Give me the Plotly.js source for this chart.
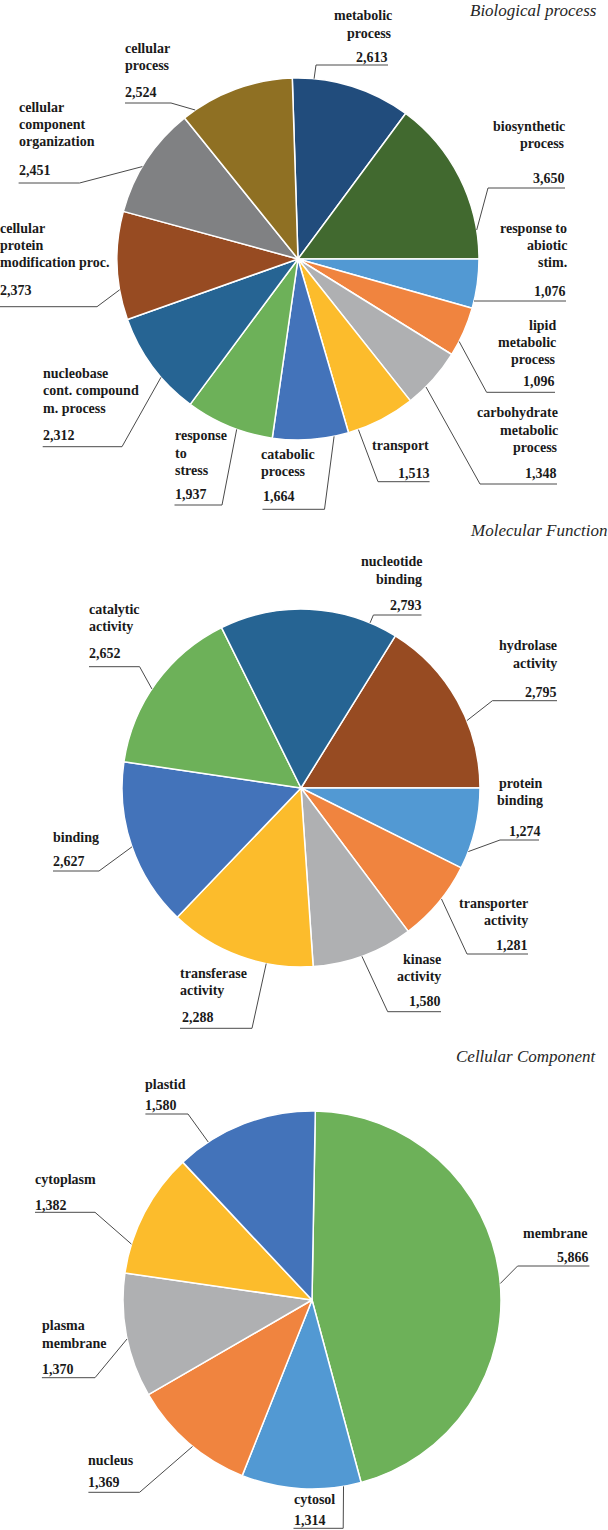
<!DOCTYPE html>
<html><head><meta charset="utf-8">
<script src="https://cdn.plot.ly/plotly-3.0.1.min.js"></script>
<style>html,body{margin:0;padding:0;background:#fff}#chart{width:608px;height:1530px}</style>
</head><body><div id="chart"></div>
<script>
// ---------------- data ----------------
const panelTitles = ['Biological process', 'Molecular Function', 'Cellular Component'];

const bpCategories = ['metabolic\nprocess', 'biosynthetic\nprocess', 'response to\nabiotic\nstim.', 'lipid\nmetabolic\nprocess',
  'carbohydrate\nmetabolic\nprocess', 'transport', 'catabolic\nprocess', 'response\nto\nstress',
  'nucleobase\ncont. compound\nm. process', 'cellular\nprotein\nmodification proc.', 'cellular\ncomponent\norganization', 'cellular\nprocess'];
const bpValues = [2613, 3650, 1076, 1096, 1348, 1513, 1664, 1937, 2312, 2373, 2451, 2524];

const mfCategories = ['hydrolase\nactivity', 'protein\nbinding', 'transporter\nactivity', 'kinase\nactivity',
  'transferase\nactivity', 'binding', 'catalytic\nactivity', 'nucleotide\nbinding'];
const mfValues = [2795, 1274, 1281, 1580, 2288, 2627, 2652, 2793];

const ccCategories = ['membrane', 'cytosol', 'nucleus', 'plasma\nmembrane', 'cytoplasm', 'plastid'];
const ccValues = [5866, 1314, 1369, 1370, 1382, 1580];

// ---------------- style ----------------
const C = {
  navy: '#214C7C', dgreen: '#41692F', lblue: '#5299D3', orange: '#F0843F', lgray: '#AFB0B2', yellow: '#FCBC2C',
  blue: '#4373BA', green: '#6DB159', steel: '#266493', brown: '#974B22', dgray: '#808183', olive: '#8F7023'
};
const bpColors = [C.navy, C.dgreen, C.lblue, C.orange, C.lgray, C.yellow, C.blue, C.green, C.steel, C.brown, C.dgray, C.olive];
const mfColors = [C.brown, C.lblue, C.orange, C.lgray, C.yellow, C.blue, C.green, C.steel];
const ccColors = [C.green, C.lblue, C.orange, C.lgray, C.yellow, C.blue];

const W = 608, H = 1530;
const px = x => x / W, py = y => 1 - y / H;
const FS = 14, LS = 17.3;
const labelFont = {family: 'Liberation Serif, Times New Roman, serif', size: FS, color: '#1a1a1a', weight: 'bold'};
const titleFont = {family: 'Liberation Serif, Times New Roman, serif', size: 17, color: '#262626', style: 'italic'};
const leaderColor = '#4a4a4a';

const sum = a => a.reduce((s, v) => s + v, 0);

// label layout: al = alignment, x = name anchor x, y = first baseline, vy = value baseline,
// u = [x1, x2, y] underline, a = leader attach angle (deg clockwise from 12 o'clock)
const panels = [
  {
    cats: bpCategories, vals: bpValues, colors: bpColors, cx: 298, cy: 259, r: 181,
    rot: 90 - 360 * sum(bpValues.slice(0, 2)) / sum(bpValues),
    title: {x: 597, top: 0.5, anchor: 'right'},
    labels: [
      {al: 'r', x: 392, y: 20.7, vy: 62.7, u: [316, 388, 65], a: 5.1},
      {al: 'r', x: 565, y: 131, vy: 183, u: [488, 565, 188], a: 80.8},
      {al: 'r', x: 567, y: 233, vy: 296.7, u: [474, 566, 301], a: 103.4},
      {al: 'r', x: 556, y: 330, vy: 386.7, u: [486.6, 555, 392.3], a: 117.1},
      {al: 'r', x: 558, y: 417.7, vy: 478.3, u: [480, 557, 484], a: 135},
      {al: 'r', x: 429, y: 450, vy: 478.3, u: [378, 429.6, 481.7], a: 160.5},
      {al: 'l', x: 261, y: 459.3, vy: 501.7, u: [262.5, 324.5, 509.3], a: 168.5},
      {al: 'l', x: 175, y: 440.7, vy: 499.3, u: [174.5, 222, 505], a: 199.8},
      {al: 'l', x: 42.7, y: 378.3, vy: 440.7, u: [42.7, 122, 446.7], a: 229.2},
      {al: 'l', x: 0, y: 233, vy: 295, u: [0, 97, 306.7], a: 260.2},
      {al: 'l', x: 18.6, y: 112, vy: 175, u: [18.6, 79.5, 183], a: 300.7},
      {al: 'l', x: 125, y: 53, vy: 97, u: [125, 171, 103], a: 325.4}
    ]
  },
  {
    cats: mfCategories, vals: mfValues, colors: mfColors, cx: 301, cy: 788, r: 179,
    rot: 90 - 360 * mfValues[0] / sum(mfValues),
    title: {x: 607, y: 536.7, anchor: 'right'},
    labels: [
      {al: 'r', x: 557, y: 650.7, vy: 697.3, u: [492.4, 557, 700.7], a: 67.9},
      {al: 'r', x: 543, y: 788.3, vy: 836, vx: 541, u: [500, 539, 840], a: 110.8},
      {al: 'r', x: 528, y: 908.3, vy: 950.7, u: [467, 528, 954], a: 128.3},
      {al: 'r', x: 441, y: 964.3, vy: 1006.7, u: [387.7, 441, 1011.7], a: 160.1},
      {al: 'l', x: 180, y: 978.3, vy: 1022.7, vx: 182, u: [180, 252, 1028.3], a: 191.2},
      {al: 'l', x: 53, y: 842.7, vy: 866.7, u: [53, 99, 871], a: 250.8},
      {al: 'l', x: 89, y: 614, vy: 658.3, u: [89, 139.6, 666.7], a: 303.6},
      {al: 'r', x: 421.5, y: 566.7, vy: 610.7, u: [373.4, 421.5, 615], a: 22.7}
    ]
  },
  {
    cats: ccCategories, vals: ccValues, colors: ccColors, cx: 312, cy: 1300, r: 189,
    rot: 1,
    title: {x: 597, y: 1062.3, anchor: 'right'},
    labels: [
      {al: 'r', x: 588, y: 1238.3, vy: 1262.3, u: [517.6, 589.4, 1266], a: 85},
      {al: 'l', x: 293.5, y: 1504, vy: 1525, u: [293.5, 343.2, 1528.3], a: 170.4},
      {al: 'l', x: 88.4, y: 1465, vy: 1487.3, u: [88.4, 139.6, 1492.3], a: 219.2},
      {al: 'l', x: 41.9, y: 1330.7, vy: 1374.3, u: [41.9, 95, 1377.7], a: 258.1},
      {al: 'l', x: 35, y: 1184.3, vy: 1210, u: [35, 95, 1212.3], a: 287.2},
      {al: 'l', x: 145.4, y: 1089.3, vy: 1110, u: [145.4, 188, 1114], a: 326.7}
    ]
  }
];

const traces = [], annotations = [], shapes = [];

function addText(txt, x, baseline, anchor, font, size) {
  annotations.push({
    xref: 'paper', yref: 'paper', x: px(x), y: py(baseline - 0.34 * size),
    xanchor: anchor, yanchor: 'middle', text: txt, showarrow: false, font: font, borderpad: 0, borderwidth: 0
  });
}
function addLine(x0, y0, x1, y1) {
  shapes.push({type: 'line', xref: 'paper', yref: 'paper', x0: px(x0), y0: py(y0), x1: px(x1), y1: py(y1),
    line: {color: leaderColor, width: 1}});
}

panels.forEach((P, pi) => {
  traces.push({
    type: 'pie', labels: P.cats.map(s => s.replace(/\n/g, ' ')), values: P.vals,
    sort: false, direction: 'clockwise', rotation: P.rot, textinfo: 'none', hoverinfo: 'label+value',
    marker: {colors: P.colors, line: {color: '#ffffff', width: 1.5}},
    domain: {x: [px(P.cx - P.r), px(P.cx + P.r)], y: [py(P.cy + P.r), py(P.cy - P.r)]},
    showlegend: false
  });
  if (P.title.top !== undefined) {
    annotations.push({xref: 'paper', yref: 'paper', x: px(P.title.x), y: py(P.title.top), xanchor: P.title.anchor,
      yanchor: 'top', text: panelTitles[pi], showarrow: false, font: titleFont, borderpad: 0, borderwidth: 0});
  } else {
    addText(panelTitles[pi], P.title.x, P.title.y, P.title.anchor, titleFont, 17);
  }
  P.labels.forEach((L, i) => {
    const anchor = L.al === 'r' ? 'right' : 'left';
    P.cats[i].split('\n').forEach((line, k) => addText(line, L.x, L.y + k * LS, anchor, labelFont, FS));
    const vx = L.vx !== undefined ? L.vx : (L.al === 'r' ? L.u[1] : L.u[0]);
    addText(P.vals[i].toLocaleString('en-US'), vx, L.vy, anchor, labelFont, FS);
    const rad = L.a * Math.PI / 180;
    const ax = P.cx + P.r * Math.sin(rad), ay = P.cy - P.r * Math.cos(rad);
    const ex = L.al === 'r' ? L.u[0] : L.u[1];
    addLine(L.u[0], L.u[2], L.u[1], L.u[2]);
    addLine(ex, L.u[2], ax, ay);
  });
});

Plotly.newPlot('chart', traces, {
  width: W, height: H, margin: {l: 0, r: 0, t: 0, b: 0},
  paper_bgcolor: '#ffffff', plot_bgcolor: '#ffffff',
  annotations: annotations, shapes: shapes
}, {staticPlot: true});
</script>
</body></html>
